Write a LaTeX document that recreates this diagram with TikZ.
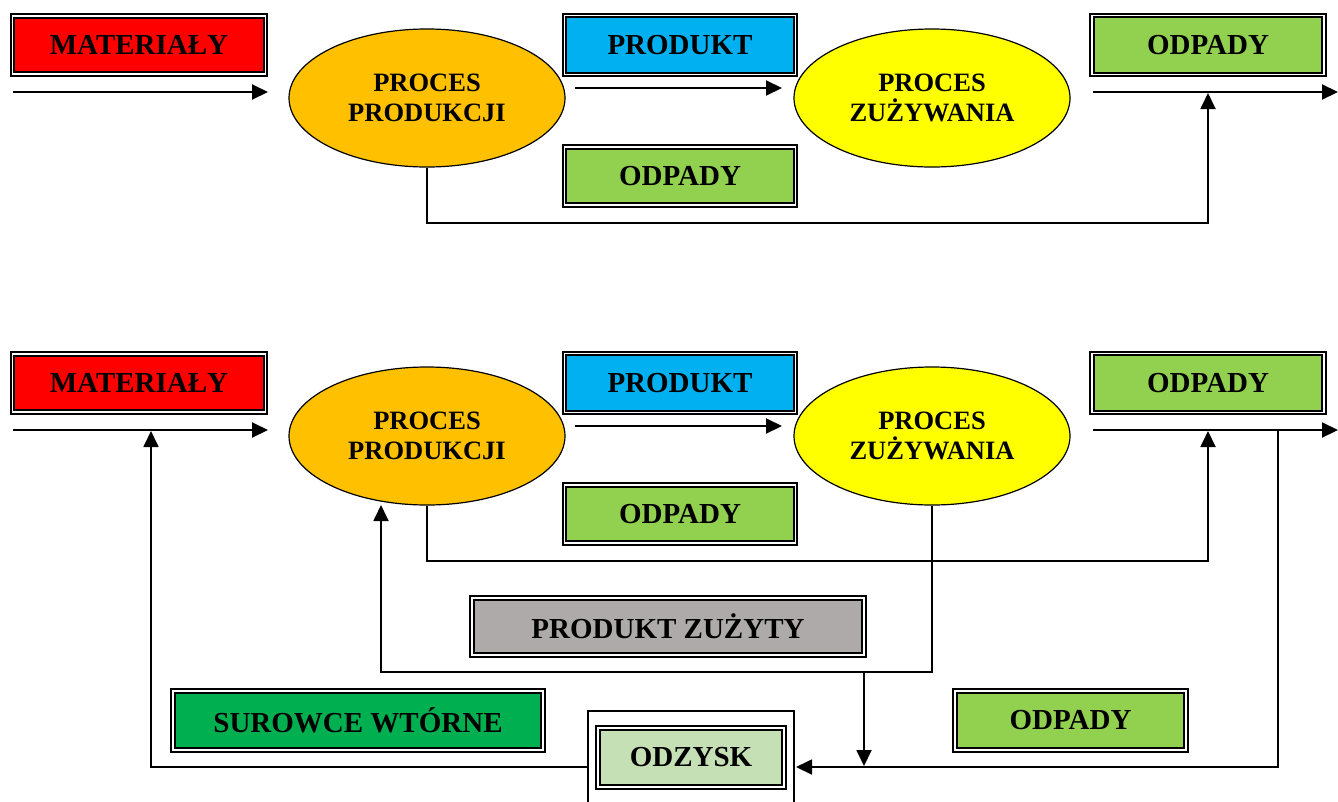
\documentclass[tikz,border=0pt]{standalone}
\usepackage{fontspec}
\setmainfont{Liberation Serif}
\usetikzlibrary{shapes.geometric,arrows.meta}
\definecolor{cred}{HTML}{FF0000}
\definecolor{cblue}{HTML}{00B0F0}
\definecolor{corange}{HTML}{FFC000}
\definecolor{cyellow}{HTML}{FFFF00}
\definecolor{clgreen}{HTML}{92D050}
\definecolor{cgray}{HTML}{AEAAAA}
\definecolor{cgreen}{HTML}{00B050}
\definecolor{cpale}{HTML}{C5E0B4}
\tikzset{
  dbox/.style={draw=black, line width=2pt, double=white, double distance=1.2pt,
    fill=#1, inner sep=0pt, font=\fontsize{29}{32}\selectfont\bfseries},
  proc/.style={ellipse, draw=black, line width=1.2pt, fill=#1,
    minimum width=276pt, minimum height=138pt, inner sep=0pt, align=center,
    font=\fontsize{26.5}{30}\selectfont\bfseries},
  arr/.style={line width=2pt, -{Triangle[length=16pt,width=15pt]}},
  linkarr/.style={line width=1.8pt, -{Triangle[length=16pt,width=15pt]}}
}
\begin{document}
\begin{tikzpicture}[x=1pt,y=-1pt]
\useasboundingbox (0,0) rectangle (1338,801);
\fill[white] (0,0) rectangle (1338,801);

% ---------- top diagram ----------
\node[dbox=cred, minimum width=253pt, minimum height=58pt] (mat1) at (139,45) {\raisebox{-2pt}{MATERIAŁY}};
\node[dbox=cblue, minimum width=231pt, minimum height=59pt] (prod1) at (680,45) {\raisebox{-2pt}{PRODUKT}};
\node[dbox=clgreen, minimum width=232pt, minimum height=59pt] (odp1) at (1208,45) {\raisebox{-2pt}{ODPADY}};
\node[dbox=clgreen, minimum width=231pt, minimum height=58pt] (odpb1) at (680,176) {\raisebox{-2pt}{ODPADY}};
\node[proc=corange] (pp1) at (427,98) {PROCES\\PRODUKCJI};
\node[proc=cyellow] (pz1) at (932,98) {PROCES\\ZUŻYWANIA};

\coordinate (a1s) at (13,92);  \coordinate (a1e) at (268,92);
\coordinate (a2s) at (575,88); \coordinate (a2e) at (782,88);
\coordinate (a3s) at (1093,92); \coordinate (a3e) at (1338,92);
\draw[arr] (a1s) -- (a1e);
\draw[arr] (a2s) -- (a2e);
\draw[arr] (a3s) -- (a3e);
\coordinate (w1c) at (1208,223); \coordinate (w1e) at (1208,93);
\draw[linkarr] (pp1.south) |- (w1c) -- (w1e);

% ---------- bottom diagram ----------
\node[dbox=cred, minimum width=253pt, minimum height=58pt] (mat2) at (139,383) {\raisebox{-2pt}{MATERIAŁY}};
\node[dbox=cblue, minimum width=231pt, minimum height=59pt] (prod2) at (680,383) {\raisebox{-2pt}{PRODUKT}};
\node[dbox=clgreen, minimum width=232pt, minimum height=59pt] (odp2) at (1208,383) {\raisebox{-2pt}{ODPADY}};
\node[dbox=clgreen, minimum width=231pt, minimum height=58pt] (odpb2) at (680,514) {\raisebox{-2pt}{ODPADY}};
\node[proc=corange] (pp2) at (427,436) {PROCES\\PRODUKCJI};
\node[proc=cyellow] (pz2) at (932,436) {PROCES\\ZUŻYWANIA};

\node[dbox=cgray, minimum width=392pt, minimum height=57pt] (pzu) at (668,626.5) {\raisebox{-2pt}{PRODUKT ZUŻYTY}};
\node[dbox=cgreen, minimum width=370pt, minimum height=59pt] (sur) at (358,720.5) {\raisebox{-2pt}{SUROWCE WTÓRNE}};
\node[dbox=clgreen, minimum width=231pt, minimum height=59pt] (odp3) at (1070.5,720.5) {\raisebox{-2pt}{ODPADY}};
\node[draw=black, line width=1.8pt, fill=white, minimum width=206pt, minimum height=100pt, inner sep=0pt] (odzo) at (691,761) {};
\node[dbox=cpale, minimum width=186pt, minimum height=59pt] (odz) at (691,757.5) {\raisebox{-2pt}{ODZYSK}};

\coordinate (b1s) at (13,430);  \coordinate (b1e) at (268,430);
\coordinate (b2s) at (575,426); \coordinate (b2e) at (782,426);
\coordinate (b3s) at (1093,430); \coordinate (b3e) at (1338,430);
\draw[arr] (b1s) -- (b1e);
\draw[arr] (b2s) -- (b2e);
\draw[arr] (b3s) -- (b3e);

% production waste loop
\coordinate (w2c) at (1208,561); \coordinate (w2e) at (1208,431);
\draw[linkarr] (pp2.south) |- (w2c) -- (w2e);

% used product back to production
\coordinate (u1) at (932,672); \coordinate (u2) at (381,672); \coordinate (u3) at (381,505);
\draw[linkarr] (pz2.south) -- (u1) -- (u2) -- (u3);

% used product down to recovery line
\coordinate (d1) at (864,672); \coordinate (d2) at (864,766);
\draw[linkarr] (d1) -- (d2);

% waste to recovery
\coordinate (r1) at (1278,430); \coordinate (r2) at (1278,767); \coordinate (r3) at (796,767);
\draw[linkarr] (r1) -- (r2) -- (r3);

% recovery to materials
\coordinate (l1) at (588,767); \coordinate (l2) at (151,767); \coordinate (l3) at (151,431);
\draw[linkarr] (l1) -- (l2) -- (l3);
\end{tikzpicture}
\end{document}
